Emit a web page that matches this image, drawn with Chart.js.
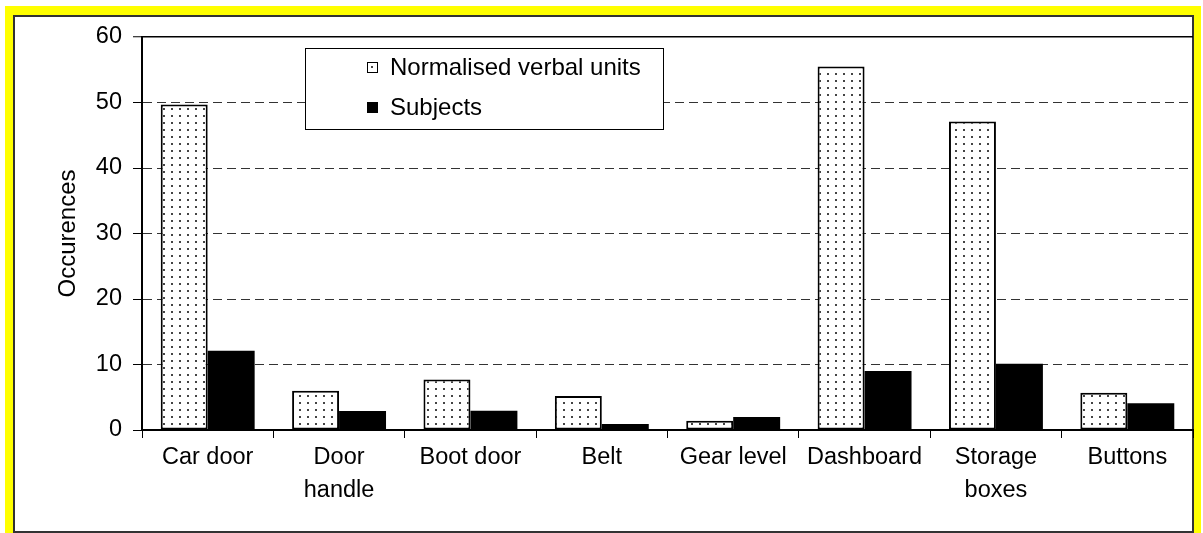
<!DOCTYPE html>
<html>
<head>
<meta charset="utf-8">
<script src="https://cdn.jsdelivr.net/npm/chart.js@4.4.0/dist/chart.umd.min.js"></script>
<style>
  body { margin: 0; background: #fff; width: 1203px; height: 533px; overflow: hidden; position: relative; }
  #frame { position: absolute; left: 5px; top: 6px; width: 1196px; height: 540px; background: #ffff00; }
  #panel { position: absolute; left: 13px; top: 15px; width: 1181px; height: 518px; background: #fff;
           border: 2px solid #333; box-sizing: border-box; }
  #chart { position: absolute; left: 0; top: 0; }
</style>
</head>
<body>
<div id="frame"></div>
<div id="panel"></div>
<canvas id="chart" width="1203" height="533"></canvas>
<script>
// categories and values
const categories = ["Car door", ["Door", "handle"], "Boot door", "Belt", "Gear level", "Dashboard", ["Storage", "boxes"], "Buttons"];
const verbalUnits = [49.7, 6.0, 7.7, 5.2, 1.4, 55.5, 47.1, 5.7];
const subjects = [12.1, 2.9, 2.95, 0.9, 2.0, 9.0, 10.1, 4.1];
const yTicks = { min: 0, max: 60, step: 10 };

const FONT = '"Liberation Sans", Arial, sans-serif';

// dotted fill like the old office pattern
function dotPattern() {
    const c = document.createElement("canvas");
    c.width = 8;
    c.height = 7;
    const g = c.getContext("2d");
    g.fillStyle = "#fff";
    g.fillRect(0, 0, 8, 7);
    g.fillStyle = "#444";
    g.fillRect(3, 3, 2, 2);
    return g.createPattern(c, "repeat");
}
const dots = dotPattern();

// framed legend inside the plot, like the original
const legendBox = {
    id: "legendBox",
    afterDatasetsDraw(chart) {
        const ctx = chart.ctx;
        const left = 305, top = 48, w = 358, h = 81;
        ctx.save();
        ctx.fillStyle = "#fff";
        ctx.fillRect(left, top, w, h);
        ctx.strokeStyle = "#000";
        ctx.lineWidth = 1;
        ctx.strokeRect(left + 0.5, top + 0.5, w, h);
        ctx.font = "24px " + FONT;
        ctx.textBaseline = "middle";
        chart.data.datasets.forEach((ds, i) => {
            const y = 67 + i * 40;
            ctx.fillStyle = ds.backgroundColor;
            ctx.fillRect(367, y - 5, 11, 11);
            ctx.strokeStyle = "#000";
            ctx.strokeRect(367.5, y - 4.5, 10, 10);
            ctx.fillStyle = "#000";
            ctx.fillText(ds.label, 390, y + 1);
        });
        ctx.restore();
    }
};

new Chart(document.getElementById("chart"), {
    type: "bar",
    data: {
        labels: categories,
        datasets: [
            {
                label: "Normalised verbal units",
                data: verbalUnits,
                backgroundColor: dots,
                borderColor: "#000",
                borderWidth: 2,
                borderSkipped: false
            },
            {
                label: "Subjects",
                data: subjects,
                backgroundColor: "#000",
                borderWidth: 0
            }
        ]
    },
    options: {
        responsive: false,
        devicePixelRatio: 1,
        animation: false,
        barPercentage: 1,
        categoryPercentage: 0.715,
        layout: { padding: { top: 37, right: 10, left: 0, bottom: 0 } },
        plugins: {
            legend: { display: false },
            tooltip: { enabled: false }
        },
        scales: {
            x: {
                afterFit: s => { s.height = 103; },
                grid: {
                    offset: true,
                    drawOnChartArea: false,
                    drawTicks: true,
                    tickLength: 8,
                    color: "#000",
                    lineWidth: 1
                },
                border: { color: "#000", width: 2 },
                ticks: {
                    color: "#000",
                    font: { family: FONT, size: 23.5, lineHeight: 1.4 },
                    padding: 3,
                    autoSkip: false,
                    maxRotation: 0
                }
            },
            y: {
                min: yTicks.min,
                max: yTicks.max,
                afterFit: s => { s.width = 142; },
                grid: {
                    color: c => c.tick.value === 0 ? "rgba(0,0,0,0)" : (c.tick.value === 60 ? "#000" : "#333"),
                    lineWidth: c => c.tick.value === 60 ? 1.5 : 1,
                    tickColor: "#000",
                    tickWidth: 1,
                    tickLength: 9,
                    tickBorderDash: []
                },
                border: {
                    color: "#000",
                    width: 2,
                    dash: c => (c.tick && c.tick.value === 60) ? [] : [9, 5]
                },
                ticks: {
                    stepSize: yTicks.step,
                    color: "#000",
                    font: { family: FONT, size: 23.5 },
                    padding: 11
                },
                title: {
                    display: true,
                    text: "Occurences",
                    color: "#000",
                    font: { family: FONT, size: 24 },
                    padding: { top: 54, bottom: 0 }
                }
            }
        }
    },
    plugins: [legendBox]
});
</script>
</body>
</html>
